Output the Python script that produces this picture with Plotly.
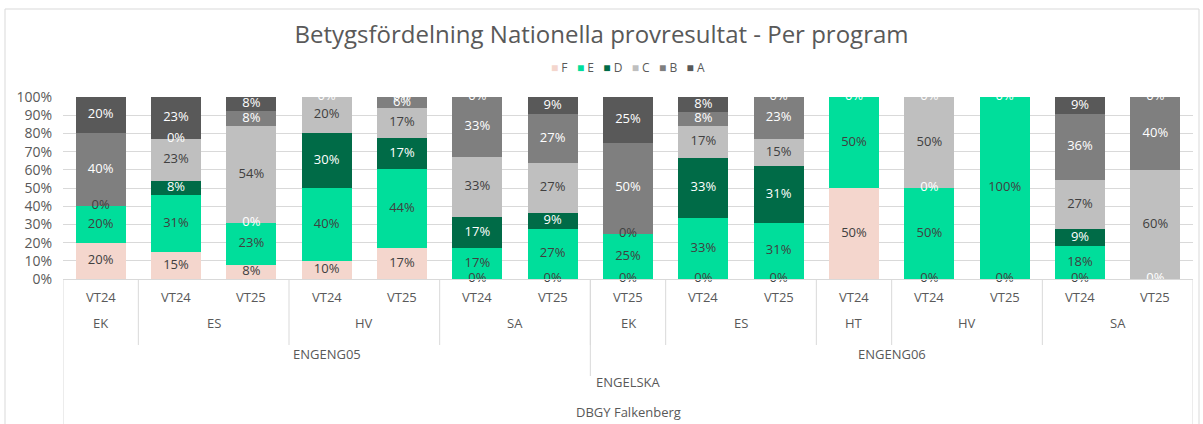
import plotly.graph_objects as go

# ---------------- data ----------------
vt = ["VT24", "VT24", "VT25", "VT24", "VT25", "VT24", "VT25",
      "VT25", "VT24", "VT25", "VT24", "VT24", "VT25", "VT24", "VT25"]
program = ["EK", "ES", "ES", "HV", "HV", "SA", "SA",
           "EK", "ES", "ES", "HT", "HV", "HV", "SA", "SA"]
course = ["ENGENG05"] * 7 + ["ENGENG06"] * 8
subject = "ENGELSKA"
school = "DBGY Falkenberg"

grades = ["F", "E", "D", "C", "B", "A"]
F = [20, 15, 8, 10, 17, 0, 0, 0, 0, 0, 50, 0, 0, 0, None]
E = [20, 31, 23, 40, 44, 17, 27, 25, 33, 31, 50, 50, 100, 18, None]
D = [None, 8, 0, 30, 17, 17, 9, None, 33, 31, None, 0, None, 9, 0]
C = [0, 23, 54, 20, 17, 33, 27, 0, 17, 15, None, 50, None, 27, 60]
B = [40, 0, 8, 0, 6, 33, 27, 50, 8, 23, 0, 0, 0, 36, 40]
A = [20, 23, 8, None, 0, 0, 9, 25, 8, 0, None, None, None, 9, 0]
series = [F, E, D, C, B, A]

colors = ["#F4D6CD", "#00DE9B", "#006B47", "#BFBFBF", "#7F7F7F", "#595959"]
text_colors = ["#404040", "#404040", "#FFFFFF", "#404040", "#FFFFFF", "#FFFFFF"]

FONT = "Open Sans"
GREY = "#595959"
LINE = "#D9D9D9"

n = len(vt)
xs = list(range(n))
totals = [sum(s[i] for s in series if s[i] is not None) for i in xs]

fig = go.Figure()
for g, vals, col in zip(grades, series, colors):
    fig.add_trace(go.Bar(
        x=xs, y=[v if v is not None else 0 for v in vals], name=g,
        marker=dict(color=col, line=dict(width=0)),
        hoverinfo="skip", showlegend=False,
    ))

# data labels (incl. zero-size segments) positioned at segment midpoints
cum = [0.0] * n
for g, vals, tcol in zip(grades, series, text_colors):
    lx, ly, lt = [], [], []
    for i in xs:
        v = vals[i]
        if v is None:
            continue
        h = v * 100.0 / totals[i]
        lx.append(i)
        ly.append(cum[i] + h / 2)
        lt.append(f"{v}%")
        cum[i] += h
    fig.add_trace(go.Scatter(
        x=lx, y=ly, text=lt, mode="text", showlegend=False,
        textfont=dict(family=FONT, size=13, color=tcol),
        hoverinfo="skip", cliponaxis=False,
    ))

# ---------------- multi-level category axis ----------------
def px2paper(py):
    return (279 - py) / 182.0

annotations = []
shapes = []

def add_label(xc, py, text):
    annotations.append(dict(x=xc, y=px2paper(py), xref="x", yref="paper",
                            xanchor="center", yanchor="middle",
                            text=text, showarrow=False,
                            font=dict(family=FONT, size=13, color=GREY)))

def vline(xv, py_bottom):
    shapes.append(dict(type="line", xref="x", yref="paper", x0=xv, x1=xv,
                       y0=0, y1=px2paper(py_bottom),
                       line=dict(color=LINE, width=1)))

for i in xs:
    add_label(i, 297, vt[i])

def groups(keys):
    out = []
    start = 0
    for i in range(1, n + 1):
        if i == n or keys[i] != keys[start]:
            out.append((start, i - 1, keys[start]))
            start = i
    return out

prog_keys = [(course[i], program[i]) for i in xs]
for s, e, k in groups(prog_keys):
    add_label((s + e) / 2, 323, k[1])
    if s > 0:
        vline(s - 0.5, 345)
for s, e, k in groups(course):
    add_label((s + e) / 2, 354, k)
    if s > 0:
        vline(s - 0.5, 376)
add_label((n - 1) / 2, 382, subject)
add_label((n - 1) / 2, 412, school)
vline(-0.5, 440)
vline(n - 0.5, 440)

# legend (compact, Excel style)
legend_text = "&nbsp;&nbsp;&nbsp;".join(
    f"<span style='color:{c}'>■</span>&nbsp;{g}" for g, c in zip(grades, colors))
annotations.append(dict(x=0.5, y=px2paper(68), xref="paper", yref="paper",
                        xanchor="center", yanchor="middle", text=legend_text,
                        showarrow=False,
                        font=dict(family=FONT, size=12, color=GREY)))

# chart outer border
shapes.append(dict(type="rect", xref="paper", yref="paper",
                   x0=(5 - 63) / 1130.0, x1=(1199 - 63) / 1130.0,
                   y0=px2paper(440), y1=px2paper(9),
                   line=dict(color=LINE, width=1), fillcolor="rgba(0,0,0,0)",
                   layer="below"))

fig.update_layout(
    width=1203, height=424,
    margin=dict(l=63, r=10, t=97, b=145, autoexpand=False),
    paper_bgcolor="white", plot_bgcolor="white",
    barmode="stack", barnorm="percent", bargap=0.333,
    title=dict(text="Betygsfördelning Nationella provresultat - Per program",
               x=0.5, xanchor="center", yref="container", y=1 - 35 / 424,
               yanchor="middle",
               font=dict(family=FONT, size=24, color=GREY)),
    showlegend=False,
    xaxis=dict(range=[-0.5, n - 0.5], showticklabels=False, showgrid=False,
               zeroline=False, showline=True, linecolor=LINE, linewidth=1,
               fixedrange=True, automargin=False),
    yaxis=dict(range=[0, 100], dtick=10, ticksuffix="%", showgrid=True,
               gridcolor=LINE, gridwidth=1, zeroline=False, showline=False,
               tickfont=dict(family=FONT, size=14, color=GREY),
               ticklabelstandoff=10, fixedrange=True, automargin=False),
    annotations=annotations, shapes=shapes,
)

fig.write_html("out.html",
               config={"displayModeBar": False},
               post_script="document.body.style.margin='0';"
                           "document.body.style.overflow='hidden';")
